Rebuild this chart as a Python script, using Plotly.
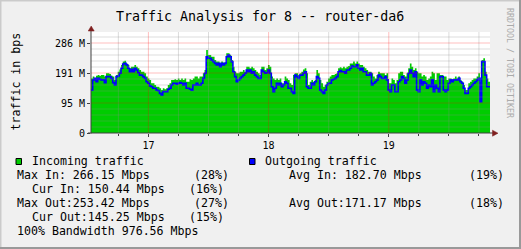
import plotly.graph_objects as go

# ---- data (values in Mbit/s, decimal) ----
t_start = -11.46          # hours relative to day 17, 00:00
t_step = 1 / 3            # 20-minute samples

incoming = [
    182, 188, 182, 191, 193, 191, 193, 193, 188, 199,
    199, 197, 191, 188, 177, 193, 204, 212, 227, 238,
    241, 232, 227, 216, 221, 221, 227, 221, 216, 210,
    204, 204, 199, 188, 182, 177, 166, 166, 160, 154,
    154, 149, 143, 149, 146, 149, 160, 166, 177, 177,
    179, 177, 182, 177, 182, 177, 182, 171, 171, 179,
    177, 182, 188, 188, 182, 188, 188, 199, 210, 277,
    260, 260, 254, 254, 243, 238, 238, 232, 238, 234,
    236, 266, 266, 260, 243, 221, 204, 199, 199, 204,
    204, 210, 204, 221, 221, 216, 221, 216, 210, 204,
    199, 193, 221, 221, 210, 216, 227, 221, 188, 182,
    177, 182, 177, 182, 166, 166, 188, 182, 177, 166,
    160, 193, 199, 199, 193,
    199, 204, 212, 216, 199, 160, 171, 177, 171, 177,
    210, 199, 177, 166, 154, 160, 171, 182, 188, 193,
    193, 197, 199, 216, 219, 216, 221, 216, 221, 223,
    232, 232, 238, 232, 238, 232, 227, 227, 221, 216,
    210, 204, 204, 199, 188, 182, 193, 204, 199, 199,
    199, 193, 199, 166, 166, 182, 177, 166, 177, 199,
    204, 204, 193, 188, 199, 216, 232, 221, 210, 216,
    204, 199, 199, 188, 193, 188, 177, 182, 188, 204,
    199, 177, 199, 199, 193, 193, 188, 188, 177, 182,
    182, 177, 182, 188, 182, 188, 177, 171, 160, 143,
    143, 166, 171, 177, 182, 182, 188, 199, 171, 243,
    249, 204, 182, 171,
]

outgoing = [
    143, 177, 182, 171, 182, 179, 177, 177, 168, 188,
    188, 188, 182, 168, 160, 188, 190, 199, 216, 230,
    232, 227, 216, 204, 212, 204, 216, 210, 201, 193,
    193, 188, 182, 171, 166, 157, 154, 149, 149, 143,
    141, 132, 127, 138, 138, 138, 146, 149, 160, 166,
    166, 163, 166, 168, 166, 160, 166, 149, 149, 146,
    143, 160, 160, 166, 160, 160, 166, 182, 199, 254,
    249, 249, 243, 238, 232, 227, 232, 221, 232, 227,
    232, 254, 260, 254, 238, 204, 188, 171, 177, 182,
    188, 193, 199, 210, 204, 210, 199, 204, 193, 188,
    182, 182, 210, 204, 199, 201, 210, 199, 154, 138,
    149, 166, 160, 166, 154, 160, 171, 166, 149, 149,
    138, 132, 193, 188, 182,
    193, 193, 199, 204, 154, 149, 149, 166, 160, 171,
    188, 182, 143, 138, 132, 143, 160, 166, 166, 177,
    179, 182, 188, 204, 208, 204, 204, 199, 210, 210,
    216, 223, 221, 221, 227, 216, 210, 216, 204, 204,
    193, 193, 199, 160, 166, 171, 177, 193, 188, 182,
    182, 188, 177, 143, 138, 160, 160, 138, 138, 171,
    177, 188, 182, 166, 177, 199, 210, 199, 188, 204,
    143, 138, 177, 160, 171, 166, 149, 160, 154, 177,
    138, 160, 149, 138, 188, 188, 143, 138, 143, 166,
    177, 171, 177, 177, 177, 182, 171, 166, 149, 132,
    132, 149, 154, 160, 166, 171, 177, 182, 104, 238,
    238, 193, 154, 154,
]

x_tick_vals = [0, 24, 48]
x_tick_text = ["17", "18", "19"]
x_minor_vals = [-6, 6, 12, 18, 30, 36, 42, 54, 60, 66]
y_tick_vals = [0, 100, 200, 300]
y_tick_text = ["0", "95 M", "191 M", "286 M"]
y_minor_vals = [20, 40, 60, 80, 120, 140, 160, 180, 220, 240, 260, 280, 320]

title_text = "Traffic Analysis for 8 -- router-da6"
y_title = "traffic in bps"
side_text = "RRDTOOL / TOBI OETIKER"
legend_in = "Incoming traffic"
legend_out = "Outgoing traffic"
stats_rows = [
    # (text, x pixel, y pixel)
    ("Max In: 266.15 Mbps", 16, 175), ("(28%)", 193, 175),
    ("Avg In: 182.70 Mbps", 287.5, 175), ("(19%)", 468, 175),
    ("Cur In: 150.44 Mbps", 30.5, 189), ("(16%)", 187.5, 189),
    ("Max Out:253.42 Mbps", 16, 203), ("(27%)", 193, 203),
    ("Avg Out:171.17 Mbps", 287.5, 203), ("(18%)", 468, 203),
    ("Cur Out:145.25 Mbps", 30.5, 217), ("(15%)", 187.5, 217),
    ("100% Bandwidth 976.56 Mbps", 16, 231),
]

# ---- geometry ----
W, H = 521, 249
PL, PR, PT, PB = 91, 490, 32, 133
n = len(incoming)
times = [t_start + i * t_step for i in range(n)]
t_end = t_start + n * t_step
Y_MAX = 336.7

def px(x):
    return (x - PL) / (PR - PL)

def py(y):
    return (PB - y) / (PB - PT)

MONO = "DejaVu Sans Mono"
GREEN = "#00CC00"
BLUE = "#0000FF"

fig = go.Figure()
fig.add_trace(go.Scatter(
    x=times + [t_end], y=incoming + [incoming[-1]], mode="lines",
    line=dict(color=GREEN, width=0, shape="hv"),
    fill="tozeroy", fillcolor=GREEN, hoverinfo="skip", showlegend=False))
fig.add_trace(go.Scatter(
    x=times + [t_end], y=outgoing + [outgoing[-1]], mode="lines",
    line=dict(color=BLUE, width=1.6, shape="hv"),
    hoverinfo="skip", showlegend=False))

shapes = []
# grid lines on top of data (as rrdtool does)
for v in x_minor_vals:
    shapes.append(dict(type="line", xref="x", yref="paper", x0=v, x1=v, y0=0, y1=1,
                       line=dict(color="rgba(140,140,140,0.30)", width=1), layer="above"))
for v in y_minor_vals:
    shapes.append(dict(type="line", xref="paper", yref="y", x0=0, x1=1, y0=v, y1=v,
                       line=dict(color="rgba(140,140,140,0.30)", width=1), layer="above"))
for v in x_tick_vals:
    shapes.append(dict(type="line", xref="x", yref="paper", x0=v, x1=v, y0=0, y1=1,
                       line=dict(color="rgba(255,0,0,0.25)", width=1), layer="above"))
for v in y_tick_vals[1:]:
    shapes.append(dict(type="line", xref="paper", yref="y", x0=0, x1=1, y0=v, y1=v,
                       line=dict(color="rgba(255,0,0,0.25)", width=1), layer="above"))
# axes with arrows
AX = "#404040"
ARROW = "#7F1F1F"
shapes.append(dict(type="line", xref="paper", yref="paper", x0=px(91), x1=px(91),
                   y0=py(133.5), y1=py(29), line=dict(color=AX, width=1), layer="above"))
shapes.append(dict(type="line", xref="paper", yref="paper", x0=px(88), x1=px(494),
                   y0=py(133), y1=py(133), line=dict(color=AX, width=1), layer="above"))
shapes.append(dict(type="path", xref="paper", yref="paper", layer="above",
                   path=f"M {px(91.2)},{py(26)} L {px(88.2)},{py(31)} L {px(94.2)},{py(31)} Z",
                   fillcolor=ARROW, line=dict(color=ARROW, width=0.5)))
shapes.append(dict(type="path", xref="paper", yref="paper", layer="above",
                   path=f"M {px(498)},{py(133.2)} L {px(492.5)},{py(130.2)} L {px(492.5)},{py(136.2)} Z",
                   fillcolor=ARROW, line=dict(color=ARROW, width=0.5)))
# legend boxes
shapes.append(dict(type="rect", xref="paper", yref="paper", x0=px(16), x1=px(21.5),
                   y0=py(158.5), y1=py(164.5), fillcolor=GREEN, line=dict(color="#000000", width=1)))
shapes.append(dict(type="rect", xref="paper", yref="paper", x0=px(249.5), x1=px(255),
                   y0=py(158.5), y1=py(164.5), fillcolor=BLUE, line=dict(color="#000000", width=1)))
# 3D frame around the image
shapes.append(dict(type="line", xref="paper", yref="paper", x0=px(0), x1=px(W), y0=py(0.5), y1=py(0.5),
                   line=dict(color="#CBCBCB", width=2)))
shapes.append(dict(type="line", xref="paper", yref="paper", x0=px(0.5), x1=px(0.5), y0=py(0), y1=py(H),
                   line=dict(color="#CBCBCB", width=2)))
shapes.append(dict(type="line", xref="paper", yref="paper", x0=px(0), x1=px(W), y0=py(H - 1), y1=py(H - 1),
                   line=dict(color="#999999", width=2)))
shapes.append(dict(type="line", xref="paper", yref="paper", x0=px(W - 1), x1=px(W - 1), y0=py(0), y1=py(H),
                   line=dict(color="#999999", width=2)))

ann = []
ann.append(dict(text=title_text, x=px(260), y=py(16.5), xref="paper", yref="paper",
                xanchor="center", yanchor="middle", showarrow=False,
                font=dict(family=MONO, size=13.3, color="#000000")))
ann.append(dict(text=y_title, x=px(15), y=py(81.5), xref="paper", yref="paper", textangle=-90,
                xanchor="center", yanchor="middle", showarrow=False,
                font=dict(family=MONO, size=11.6, color="#000000")))
ann.append(dict(text=side_text, x=px(510), y=py(63), xref="paper", yref="paper", textangle=90,
                xanchor="center", yanchor="middle", showarrow=False,
                font=dict(family=MONO, size=8.3, color="#AAAAAA")))
ann.append(dict(text=legend_in, x=px(30.5), y=py(161), xref="paper", yref="paper",
                xanchor="left", yanchor="middle", showarrow=False, borderpad=0,
                font=dict(family=MONO, size=11.6, color="#000000")))
ann.append(dict(text=legend_out, x=px(264), y=py(161), xref="paper", yref="paper",
                xanchor="left", yanchor="middle", showarrow=False, borderpad=0,
                font=dict(family=MONO, size=11.6, color="#000000")))
for txt, xx, yy in stats_rows:
    ann.append(dict(text=txt, x=px(xx), y=py(yy), xref="paper", yref="paper",
                    xanchor="left", yanchor="middle", showarrow=False, borderpad=0,
                    font=dict(family=MONO, size=11.6, color="#000000")))

fig.update_layout(
    width=W, height=H, autosize=False,
    margin=dict(l=PL, r=W - PR, t=PT, b=H - PB, pad=0),
    paper_bgcolor="#F0F0F0", plot_bgcolor="#FFFFFF",
    shapes=shapes, annotations=ann, showlegend=False,
    xaxis=dict(range=[t_start, t_end], tickmode="array", tickvals=x_tick_vals, ticktext=x_tick_text,
               showgrid=False, zeroline=False, showline=False, ticks="outside", ticklen=3,
               tickcolor=AX, tickfont=dict(family=MONO, size=10, color="#000000"),
               minor=dict(tickmode="array", tickvals=x_minor_vals, ticks="outside", ticklen=2,
                          tickcolor=AX, showgrid=False),
               fixedrange=True),
    yaxis=dict(range=[0, Y_MAX], tickmode="array", tickvals=y_tick_vals, ticktext=y_tick_text,
               showgrid=False, zeroline=False, showline=False, ticks="outside", ticklen=3,
               tickcolor=AX, tickfont=dict(family=MONO, size=10, color="#000000"),
               fixedrange=True),
)

fig.write_html("out.html", config={"displayModeBar": False})
